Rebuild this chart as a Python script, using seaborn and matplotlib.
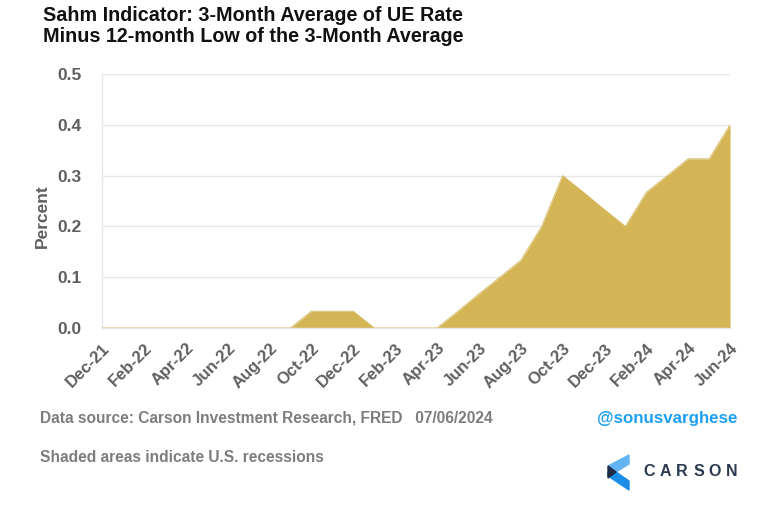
"""Sahm indicator area chart (Carson style)."""

import matplotlib
matplotlib.use("Agg")
import matplotlib.pyplot as plt
import numpy as np
import pandas as pd
import seaborn as sns
from matplotlib.patches import Polygon

months = [
    "Dec-21", "Jan-22", "Feb-22", "Mar-22", "Apr-22", "May-22", "Jun-22",
    "Jul-22", "Aug-22", "Sep-22", "Oct-22", "Nov-22", "Dec-22", "Jan-23",
    "Feb-23", "Mar-23", "Apr-23", "May-23", "Jun-23", "Jul-23", "Aug-23",
    "Sep-23", "Oct-23", "Nov-23", "Dec-23", "Jan-24", "Feb-24", "Mar-24",
    "Apr-24", "May-24", "Jun-24",
]
sahm = [
    0.0, 0.0, 0.0, 0.0, 0.0, 0.0, 0.0,
    0.0, 0.0, 0.0, 0.033, 0.033, 0.033, 0.0,
    0.0, 0.0, 0.0, 0.033, 0.067, 0.1, 0.133,
    0.2, 0.3, 0.267, 0.233, 0.2, 0.267, 0.3,
    0.333, 0.333, 0.4,
]
y_ticks = [0.0, 0.1, 0.2, 0.3, 0.4, 0.5]

GOLD = "#d4b556"
GREY = "#5f5f5f"
LIGHT = "#e6e6e6"

df = pd.DataFrame({"month": months, "sahm": sahm})
df["pos"] = np.arange(len(df))

sns.set_style("white")
plt.rcParams["font.family"] = ["Liberation Sans", "DejaVu Sans"]

fig = plt.figure(figsize=(7.8, 5.05), dpi=100)
ax = fig.add_axes([0.1308, 0.3505, 0.8052, 0.503])

ax.fill_between(df["pos"], df["sahm"], color=GOLD, linewidth=0, zorder=2)
sns.lineplot(data=df, x="pos", y="sahm", color=GOLD, linewidth=0.6, ax=ax, zorder=3)

ax.set_xlim(0, len(df) - 1)
ax.set_ylim(0, 0.5)
ax.set_yticks(y_ticks)
ax.set_yticklabels([f"{v:.1f}" for v in y_ticks], color=GREY,
                   fontsize=12.5, fontweight="bold")
ax.set_xticks(df["pos"][::2])
ax.set_xticklabels(df["month"][::2], rotation=45, ha="right",
                   rotation_mode="anchor", color=GREY, fontsize=12,
                   fontweight="bold")
ax.tick_params(axis="y", length=0, pad=15)
ax.tick_params(axis="x", length=4, color=LIGHT, width=1, pad=5)
ax.grid(axis="y", color=LIGHT, linewidth=1)
ax.set_axisbelow(True)
for side in ["top", "right"]:
    ax.spines[side].set_visible(False)
for side in ["left", "bottom"]:
    ax.spines[side].set_color(LIGHT)
    ax.spines[side].set_linewidth(1)
ax.set_xlabel("")
ax.set_ylabel("Percent", color=GREY, fontsize=12.5, fontweight="bold")
ax.yaxis.set_label_coords(-0.083, 0.44)

fig.text(0.055, 0.988, "Sahm Indicator: 3-Month Average of UE Rate\n"
         "Minus 12-month Low of the 3-Month Average",
         ha="left", va="top", fontsize=14.2, fontweight="bold",
         color="#111111", linespacing=1.1)

fig.text(0.051, 0.172, "Data source: Carson Investment Research, FRED   07/06/2024",
         ha="left", va="center", fontsize=11.2, color="#7d7d7d", fontweight="bold")
fig.text(0.051, 0.094, "Shaded areas indicate U.S. recessions",
         ha="left", va="center", fontsize=11.2, color="#7d7d7d", fontweight="bold")
fig.text(0.945, 0.172, "@sonusvarghese", ha="right", va="center",
         fontsize=12.2, color="#1ea0f5", fontweight="bold")


# Carson logo: chevron mark plus spaced wordmark
def px(points):
    return [(x / 780, 1 - y / 505) for x, y in points]


fig.add_artist(Polygon(px([(629, 455), (629, 464), (616, 472), (608, 466)]),
                       closed=True, color="#62b4f3", transform=fig.transFigure))
fig.add_artist(Polygon(px([(608, 472), (616, 472), (629, 481), (629, 490), (608, 476)]),
                       closed=True, color="#1a8ee8", transform=fig.transFigure))
fig.add_artist(Polygon(px([(608, 466), (616, 472), (608, 478)]),
                       closed=True, color="#1f2d44", transform=fig.transFigure))
for i, letter in enumerate("CARSON"):
    fig.text((649 + i * 16.5) / 780, 1 - 472 / 505, letter, ha="center",
             va="center", fontsize=11.5, color="#2a3950", fontweight="bold")

fig.savefig("out.png", dpi=100)
